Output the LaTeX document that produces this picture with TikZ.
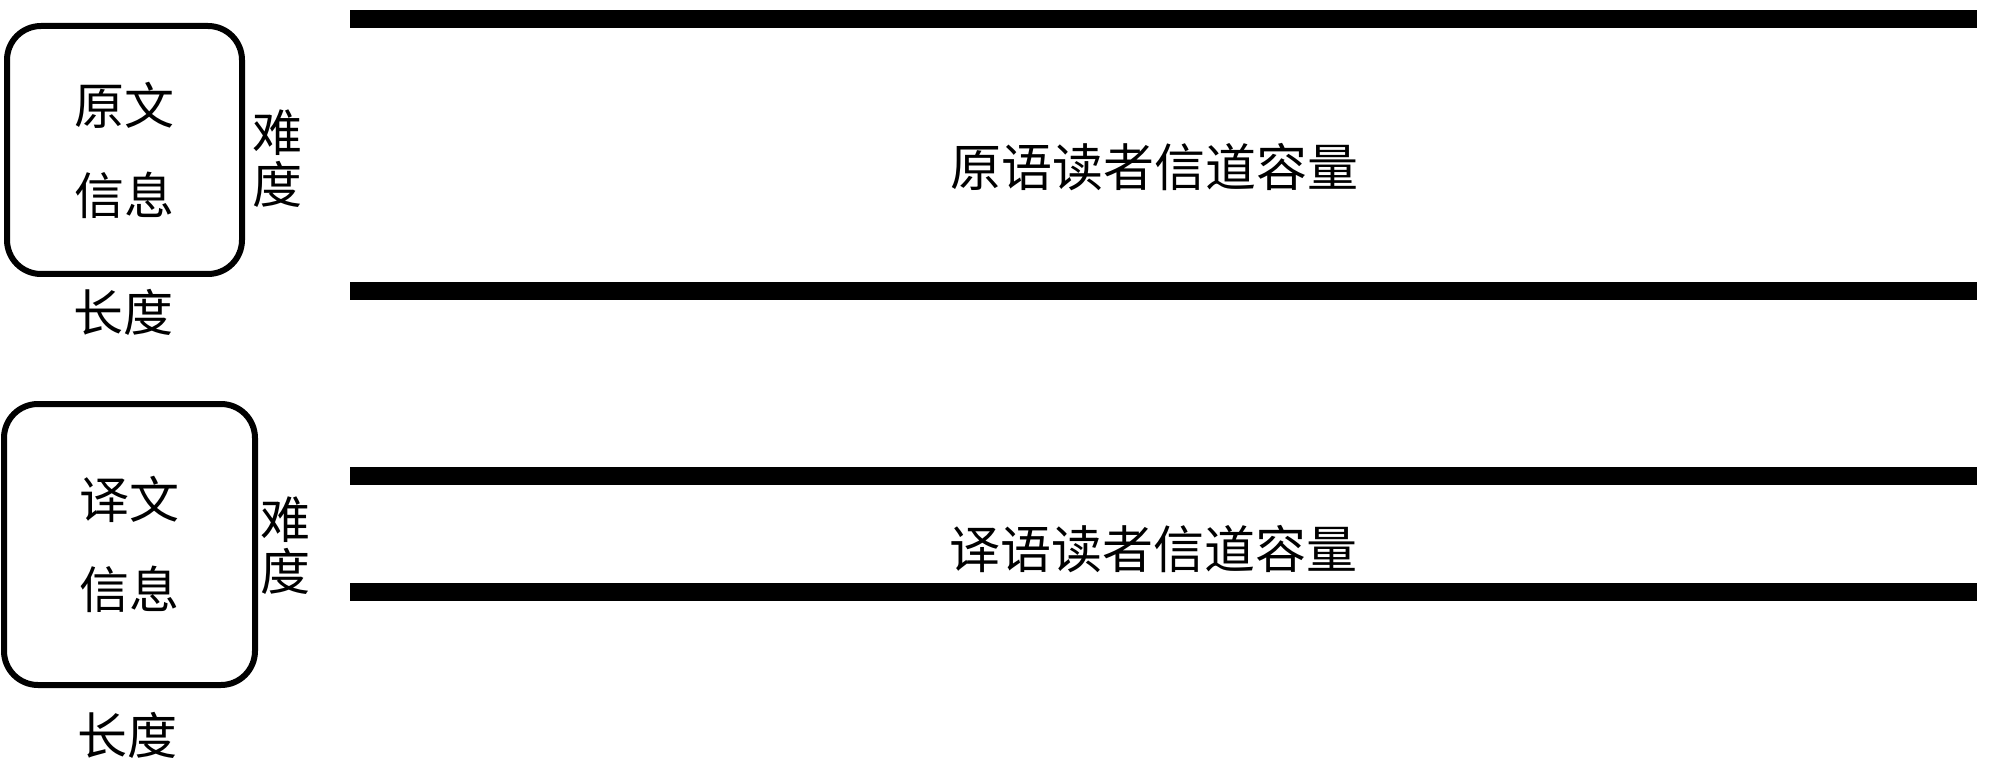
\documentclass[tikz,border=0pt]{standalone}
\usepackage{fontspec}
\setmainfont{Noto Sans CJK SC}
\begin{document}
\begin{tikzpicture}[x=1pt,y=-1pt,
  infobox/.style={draw=black,line width=6pt,rounded corners=34pt,align=center,inner sep=0pt,
    font=\fontsize{50}{90}\selectfont},
  sidelabel/.style={align=center,inner sep=0pt,font=\fontsize{50}{52}\selectfont},
  lenlabel/.style={inner sep=0pt,font=\fontsize{50}{60}\selectfont},
  chanlabel/.style={inner sep=0pt,font=\fontsize{51}{60}\selectfont},
  bar/.style={fill=black,draw=none,inner sep=0pt,minimum width=1627pt,minimum height=18pt}
]
\useasboundingbox (0,0) rectangle (2000,767);
% source message
\node[infobox,minimum width=235pt,minimum height=248pt] (src) at (124.5,150) {原文\\信息};
\node[sidelabel] (srcdiff) at (277,159) {难\\度};
\node[lenlabel] (srclen) at (123,312) {长度};
% target message
\node[infobox,minimum width=251pt,minimum height=281pt] (tgt) at (129.5,544.5) {译文\\信息};
\node[sidelabel] (tgtdiff) at (285,546) {难\\度};
\node[lenlabel] (tgtlen) at (127,735) {长度};
% channel bars
\node[bar] (b1) at (1163.5,19) {};
\node[bar] (b2) at (1163.5,291.5) {};
\node[bar] (b3) at (1163.5,476) {};
\node[bar] (b4) at (1163.5,592) {};
\node[chanlabel] (srcchan) at (1154,167.5) {原语读者信道容量};
\node[chanlabel] (tgtchan) at (1153,549) {译语读者信道容量};
\end{tikzpicture}
\end{document}
